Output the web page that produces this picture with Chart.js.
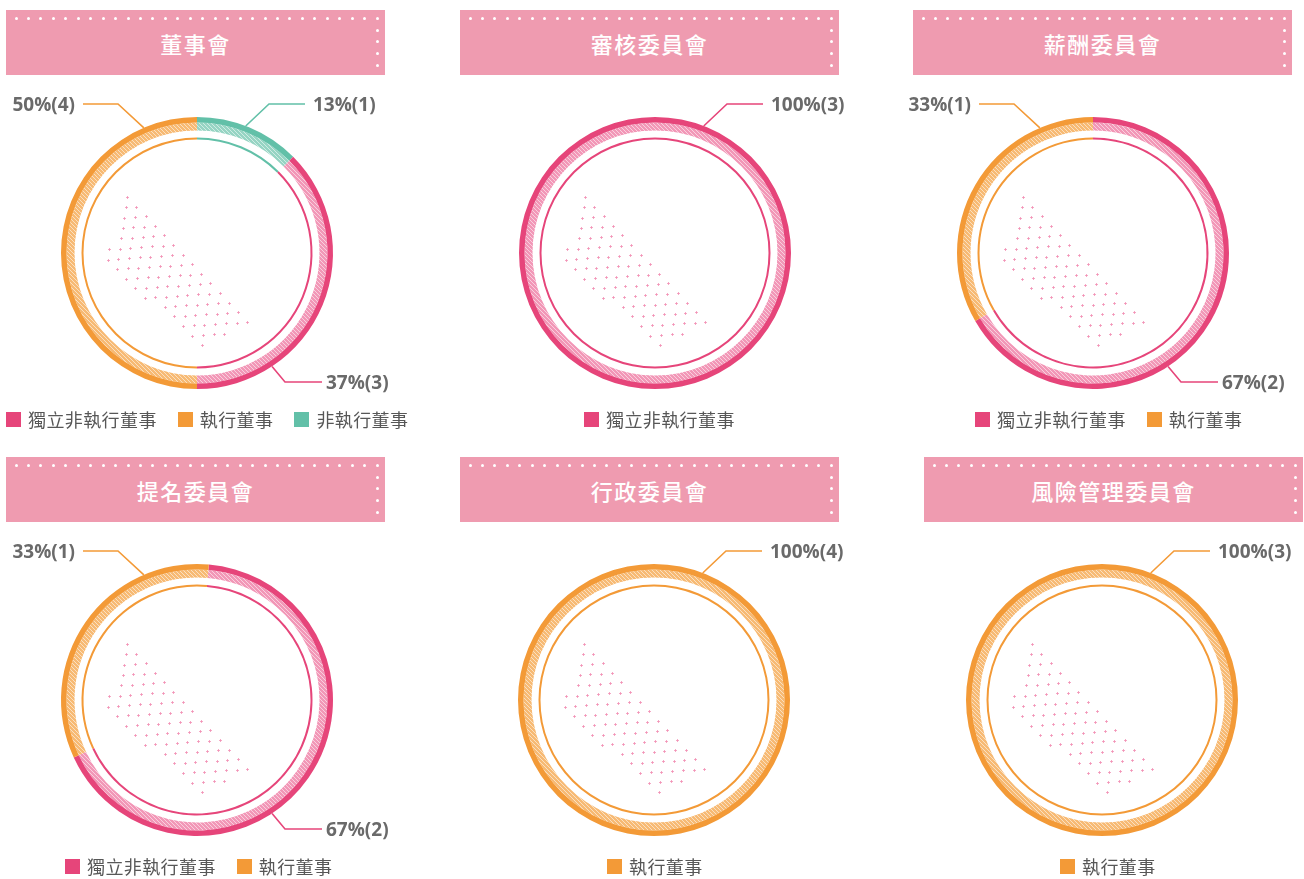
<!DOCTYPE html>
<html>
<head>
<meta charset="utf-8">
<script src="https://cdn.jsdelivr.net/npm/chart.js@4.4.1/dist/chart.umd.min.js"></script>
<style>
  html, body { margin: 0; padding: 0; background: #fff; }
  body { width: 1304px; height: 879px; overflow: hidden; position: relative; font-family: "Noto Sans CJK TC", "Noto Sans", sans-serif; }
  .banner { position: absolute; width: 379px; height: 65px; background: #EF9BB0; color: #fff;
            font-size: 22px; font-weight: 500; letter-spacing: 1.5px; text-align: center; line-height: 67px; }
  .bdot { position: absolute; width: 3px; height: 3px; border-radius: 50%; background: #fff; }
  .chart { position: absolute; width: 440px; height: 320px; }
  .legend { position: absolute; display: flex; align-items: center; height: 15px; white-space: nowrap; }
  .legend .sq { width: 15px; height: 15px; margin-right: 7px; }
  .legend .txt { font-size: 18px; letter-spacing: 0.4px; color: #575757; margin-right: 21px; line-height: 15px; }
</style>
</head>
<body>
<script>
// ---------------------------------------------
// 資料
// ---------------------------------------------
const categories = ["獨立非執行董事", "執行董事", "非執行董事"];
const committees = ["董事會", "審核委員會", "薪酬委員會", "提名委員會", "行政委員會", "風險管理委員會"];

// 人數（每個委員會）
const independentCounts = [3, 3, 2, 2, 0, 0];
const executiveCounts   = [4, 0, 1, 1, 4, 3];
const nonExecCounts     = [1, 0, 0, 0, 0, 0];

// 圖上標示的百分比
const independentPct = [37, 100, 67, 67, 0, 0];
const executivePct   = [50, 0, 33, 33, 100, 100];
const nonExecPct     = [13, 0, 0, 0, 0, 0];

// ---------------------------------------------
// 樣式 / 版面
// ---------------------------------------------
const solidColors = { "獨立非執行董事": "#E6457A", "執行董事": "#F39A37", "非執行董事": "#62C0A8" };
const hatchColors = { "獨立非執行董事": "#F297B7", "執行董事": "#F7BA74", "非執行董事": "#96D4C3" };

const panels = [
  { cx: 197,  cy: 253, bx: 6,   by: 10,  lx: 6,    ly: 412, rot: 0 },
  { cx: 655,  cy: 253, bx: 460, by: 10,  lx: 584,  ly: 412, rot: 0 },
  { cx: 1093, cy: 253, bx: 913, by: 10,  lx: 975,  ly: 412, rot: 0 },
  { cx: 197,  cy: 700, bx: 6,   by: 457, lx: 65,   ly: 859, rot: 5 },
  { cx: 654,  cy: 700, bx: 460, by: 457, lx: 607,  ly: 859, rot: 0 },
  { cx: 1102, cy: 700, bx: 924, by: 457, lx: 1060, ly: 859, rot: 0 }
];

// 標籤引線位置（相對圓心）
const callouts = {
  UL: { ang: -23,   elbow: [-79, -149], end: [-114, -149], tx: -122, align: "right" },
  UR: { ang: 21,    elbow: [72, -149],  end: [108, -149],  tx: 116,  align: "left" },
  LR: { ang: 146.5, elbow: [88, 129],   end: [125, 129],   tx: 129,  align: "left" }
};

function hatch(base) {
  const c = document.createElement("canvas");
  c.width = c.height = 4;
  const g = c.getContext("2d");
  g.fillStyle = base;
  g.fillRect(0, 0, 4, 4);
  g.strokeStyle = "rgba(255,255,255,0.55)";
  g.lineWidth = 1;
  g.beginPath();
  g.moveTo(-1, -1); g.lineTo(5, 5);
  g.moveTo(3, -1); g.lineTo(5, 1);
  g.moveTo(-1, 3); g.lineTo(1, 5);
  g.stroke();
  return g.createPattern(c, "repeat");
}

// ---------------------------------------------
// 裝飾點陣
// ---------------------------------------------
const dotPoly = [[-70, -58], [-93, 11], [3, 94], [56, 68]];
function inPoly(x, y, poly) {
  let inside = false;
  for (let i = 0, j = poly.length - 1; i < poly.length; j = i++) {
    const [xi, yi] = poly[i], [xj, yj] = poly[j];
    if (((yi > y) !== (yj > y)) && (x < (xj - xi) * (y - yi) / (yj - yi) + xi)) inside = !inside;
  }
  return inside;
}

const dotsPlugin = {
  id: "dots",
  beforeDatasetsDraw(chart) {
    const meta = chart.getDatasetMeta(0);
    const { x: cx, y: cy } = meta.data[0];
    const ctx = chart.ctx;
    ctx.save();
    ctx.fillStyle = "rgba(242,140,178,0.75)";
    for (let i = -25; i <= 25; i++) {
      for (let j = -25; j <= 25; j++) {
        const x = -70 + i * 10.7 - j * 1.45;
        const y = -56 - i * 0.7 + j * 10.3;
        if (!inPoly(x, y, dotPoly)) continue;
        const px = Math.round(cx + x), py = Math.round(cy + y);
        ctx.fillRect(px - 1, py, 3, 1);
        ctx.fillRect(px, py - 1, 1, 3);
      }
    }
    ctx.restore();
  }
};

// ---------------------------------------------
// 百分比標籤
// ---------------------------------------------
const calloutPlugin = {
  id: "callouts",
  afterDatasetsDraw(chart) {
    const meta = chart.getDatasetMeta(0);
    const ds = chart.data.datasets[0];
    const arcs = meta.data;
    const visible = arcs.map((a, i) => i).filter(i => ds.data[i] > 0);
    const ctx = chart.ctx;
    visible.forEach(i => {
      const a = arcs[i];
      const s = (a.startAngle + Math.PI / 2) * 180 / Math.PI;
      const e = (a.endAngle + Math.PI / 2) * 180 / Math.PI;
      let pos;
      if (visible.length === 1) pos = "UR";
      else if ((s <= 337 && e >= 337) || (s <= -23 && e >= -23)) pos = "UL";
      else if (e <= 90) pos = "UR";
      else pos = "LR";
      const c = callouts[pos];
      const rad = c.ang * Math.PI / 180;
      const r = a.outerRadius;
      const ax = a.x + r * Math.sin(rad), ay = a.y - r * Math.cos(rad);
      ctx.save();
      ctx.strokeStyle = ds.lineColors[i];
      ctx.lineWidth = 1.6;
      ctx.beginPath();
      ctx.moveTo(ax, ay);
      ctx.lineTo(a.x + c.elbow[0], a.y + c.elbow[1]);
      ctx.lineTo(a.x + c.end[0], a.y + c.end[1]);
      ctx.stroke();
      ctx.fillStyle = "#6a6a6a";
      ctx.font = "bold 19px 'Open Sans', 'Liberation Sans', sans-serif";
      ctx.textAlign = c.align;
      ctx.textBaseline = "middle";
      ctx.fillText(ds.labelsText[i], a.x + c.tx, a.y + c.end[1] + 1.5);
      ctx.restore();
    });
  }
};

// ---------------------------------------------
// 建立每個委員會
// ---------------------------------------------
const ringOrder = ["非執行董事", "獨立非執行董事", "執行董事"];

committees.forEach((name, k) => {
  const p = panels[k];

  // 標題
  const b = document.createElement("div");
  b.className = "banner";
  b.style.left = p.bx + "px";
  b.style.top = p.by + "px";
  b.textContent = name;
  document.body.appendChild(b);
  for (let n = 0; n < 30; n++) {
    const d = document.createElement("div");
    d.className = "bdot";
    d.style.left = (p.bx + 8.5 + n * 12.45) + "px";
    d.style.top = (p.by + 6.8) + "px";
    document.body.appendChild(d);
  }
  for (let n = 1; n < 5; n++) {
    const d = document.createElement("div");
    d.className = "bdot";
    d.style.left = (p.bx + 369.5) + "px";
    d.style.top = (p.by + 6.8 + n * 11.8) + "px";
    document.body.appendChild(d);
  }

  const counts = {
    "獨立非執行董事": independentCounts[k],
    "執行董事": executiveCounts[k],
    "非執行董事": nonExecCounts[k]
  };
  const pcts = {
    "獨立非執行董事": independentPct[k],
    "執行董事": executivePct[k],
    "非執行董事": nonExecPct[k]
  };

  const data = ringOrder.map(c => counts[c]);
  const solid = ringOrder.map(c => solidColors[c]);
  const hatched = ringOrder.map(c => hatch(hatchColors[c]));

  const canvas = document.createElement("canvas");
  canvas.className = "chart";
  canvas.width = 440;
  canvas.height = 320;
  canvas.style.left = (p.cx - 220) + "px";
  canvas.style.top = (p.cy - 160) + "px";
  document.body.appendChild(canvas);

  new Chart(canvas, {
    type: "doughnut",
    data: {
      labels: ringOrder,
      datasets: [
        { data, backgroundColor: solid, weight: 5.5,
          lineColors: solid, labelsText: ringOrder.map(c => pcts[c] + "%(" + counts[c] + ")") },
        { data, backgroundColor: hatched, weight: 8 },
        { data, backgroundColor: "rgba(0,0,0,0)", weight: 7 },
        { data, backgroundColor: solid, weight: 2 }
      ]
    },
    options: {
      responsive: false,
      animation: false,
      events: [],
      cutout: 113.5,
      rotation: p.rot,
      borderWidth: 0,
      hoverOffset: 0,
      offset: 0,
      spacing: 0,
      layout: { padding: { left: 84, right: 84, top: 24, bottom: 24 } },
      plugins: { legend: { display: false }, tooltip: { enabled: false } }
    },
    plugins: [dotsPlugin, calloutPlugin]
  });

  // 圖例
  const lg = document.createElement("div");
  lg.className = "legend";
  lg.style.left = p.lx + "px";
  lg.style.top = p.ly + "px";
  categories.filter(c => counts[c] > 0).forEach(c => {
    const sq = document.createElement("span");
    sq.className = "sq";
    sq.style.background = solidColors[c];
    const t = document.createElement("span");
    t.className = "txt";
    t.textContent = c;
    lg.appendChild(sq);
    lg.appendChild(t);
  });
  document.body.appendChild(lg);
});
</script>
</body>
</html>
